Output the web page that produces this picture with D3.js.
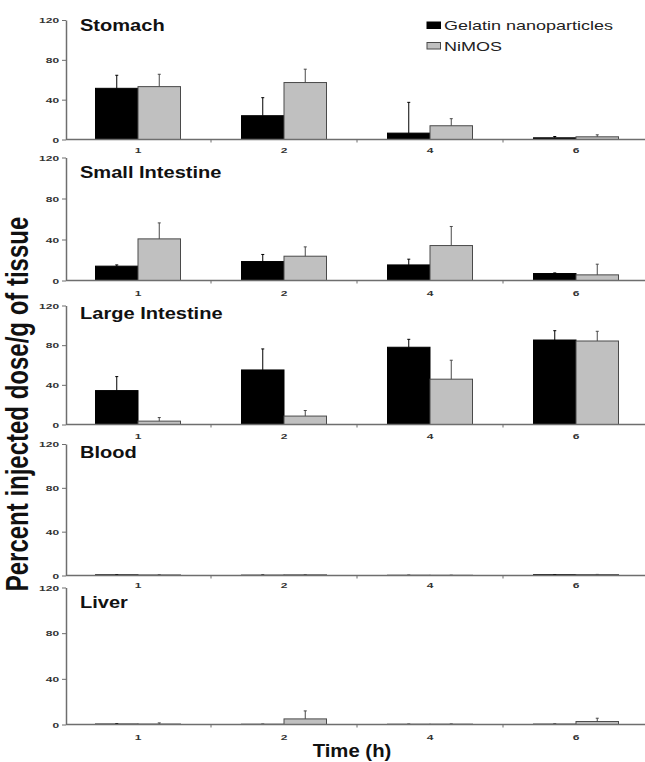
<!doctype html>
<html>
<head>
<meta charset="utf-8">
<script src="https://cdnjs.cloudflare.com/ajax/libs/d3/7.8.5/d3.min.js"></script>
<style>
  body { margin: 0; background: #fff; }
  svg { display: block; }
  text { font-family: "Liberation Sans", Arial, sans-serif; }
</style>
</head>
<body>
<svg id="chart" width="645" height="762"></svg>
<script>
// ---- data ----
var times = ["1", "2", "4", "6"];
var seriesNames = ["Gelatin nanoparticles", "NiMOS"];
var organs = ["Stomach", "Small Intestine", "Large Intestine", "Blood", "Liver"];
var yTicks = [0, 40, 80, 120];

// one row per organ, one value per time point
var gelatinMean = [
  [51.4, 23.9, 6.4, 1.7],
  [14.0, 18.5, 15.2, 6.8],
  [34.2, 55.0, 77.9, 85.2],
  [0.6, 0.3, 0.2, 0.7],
  [0.4, 0.2, 0.2, 0.3]
];
var gelatinSD = [
  [13.1, 18.1, 30.9, 1.3],
  [1.2, 6.9, 5.6, 0.6],
  [14.1, 21.2, 8.0, 9.4],
  [0.2, 0.2, 0.1, 0.2],
  [0.3, 0.1, 0.1, 0.1]
];
var nimosMean = [
  [53.1, 57.2, 13.8, 2.7],
  [40.6, 23.7, 34.1, 5.5],
  [3.4, 8.5, 45.7, 84.2],
  [0.5, 0.6, 0.2, 0.8],
  [0.4, 4.9, 0.3, 2.6]
];
var nimosSD = [
  [12.4, 13.4, 7.1, 2.0],
  [15.6, 9.1, 18.6, 10.4],
  [3.6, 5.6, 19.1, 9.8],
  [0.2, 0.2, 0.1, 0.2],
  [1.0, 7.0, 0.2, 2.9]
];

// ---- layout (pixel geometry of each stacked panel) ----
var panels = [
  {top: 20,    bottom: 139.5, title: 31,  label: 153},
  {top: 157.5, bottom: 280.5, title: 178, label: 296},
  {top: 305.5, bottom: 424.5, title: 319, label: 439},
  {top: 444,   bottom: 575.5, title: 458, label: 588},
  {top: 587.5, bottom: 724.5, title: 608, label: 740}
];
var axisX = 66, rightX = 645;
var fills = ["#000000", "#c0c0c0"];
var strokes = ["#000000", "#4a4a4a"];
var axisCol = "#6e6e6e";

var svg = d3.select("#chart");

var x0 = d3.scaleBand().domain(times).range([65, 649]).padding(0);
var x1 = d3.scaleBand().domain(seriesNames).range([-42.5, 42.5]);
var xb = d3.scaleLinear().domain([0, times.length]).range([65, 649]);

organs.forEach(function(organ, k) {
  var p = panels[k];
  var y = d3.scaleLinear().domain([0, 120]).range([p.bottom, p.top]);
  var g = svg.append("g");

  var rows = [];
  times.forEach(function(t, i) {
    rows.push({t: t, s: 0, v: gelatinMean[k][i], e: gelatinSD[k][i]});
    rows.push({t: t, s: 1, v: nimosMean[k][i], e: nimosSD[k][i]});
  });

  // error bars (drawn first so the bar covers the line foot)
  var eb = g.selectAll(".err").data(rows).enter().append("g");
  eb.append("line")
    .attr("x1", function(d) { return x0(d.t) + x0.bandwidth() / 2 + x1(seriesNames[d.s]) + x1.bandwidth() / 2; })
    .attr("x2", function(d) { return x0(d.t) + x0.bandwidth() / 2 + x1(seriesNames[d.s]) + x1.bandwidth() / 2; })
    .attr("y1", function(d) { return y(d.v); })
    .attr("y2", function(d) { return y(d.v + d.e); })
    .attr("stroke", function(d) { return strokes[d.s]; })
    .attr("stroke-width", 1);
  eb.append("line")
    .attr("x1", function(d) { return x0(d.t) + x0.bandwidth() / 2 + x1(seriesNames[d.s]) + x1.bandwidth() / 2 - 1.5; })
    .attr("x2", function(d) { return x0(d.t) + x0.bandwidth() / 2 + x1(seriesNames[d.s]) + x1.bandwidth() / 2 + 1.5; })
    .attr("y1", function(d) { return y(d.v + d.e); })
    .attr("y2", function(d) { return y(d.v + d.e); })
    .attr("stroke", function(d) { return strokes[d.s]; })
    .attr("stroke-width", 1);

  g.selectAll(".bar").data(rows).enter().append("rect")
    .attr("x", function(d) { return x0(d.t) + x0.bandwidth() / 2 + x1(seriesNames[d.s]); })
    .attr("y", function(d) { return y(d.v); })
    .attr("width", x1.bandwidth())
    .attr("height", function(d) { return p.bottom - y(d.v); })
    .attr("fill", function(d) { return fills[d.s]; })
    .attr("stroke", function(d) { return strokes[d.s]; })
    .attr("stroke-width", 1);

  // re-draw the error line part above the bar top
  eb.raise();

  // y axis
  var ya = g.append("g").attr("transform", "translate(" + axisX + ",0)")
    .call(d3.axisLeft(y).tickValues(yTicks).tickSize(4).tickSizeOuter(0));
  ya.select(".domain").attr("stroke", axisCol).attr("stroke-width", 1.5);
  ya.selectAll(".tick line").attr("stroke", axisCol);
  ya.selectAll(".tick text")
    .attr("x", -4.6).attr("dy", "0.34em")
    .attr("transform", "scale(1.5,1)")
    .attr("font-size", 8).attr("font-weight", "bold")
    .attr("fill", "#333");

  // x axis line with ticks at band boundaries
  g.append("line")
    .attr("x1", axisX).attr("x2", rightX)
    .attr("y1", p.bottom).attr("y2", p.bottom)
    .attr("stroke", axisCol).attr("stroke-width", 1.5);
  g.selectAll(".xt").data(d3.range(1, times.length)).enter().append("line")
    .attr("x1", function(d) { return xb(d); }).attr("x2", function(d) { return xb(d); })
    .attr("y1", p.bottom).attr("y2", p.bottom + 3)
    .attr("stroke", axisCol);

  g.selectAll(".xl").data(times).enter().append("text")
    .attr("transform", function(d) { return "translate(" + (x0(d) + x0.bandwidth() / 2) + "," + p.label + ") scale(1.5,1)"; })
    .attr("text-anchor", "middle")
    .attr("font-size", 8).attr("font-weight", "bold").attr("fill", "#333")
    .text(function(d) { return d; });

  g.append("text")
    .attr("transform", "translate(80," + p.title + ") scale(1.18,1)")
    .attr("font-size", 17).attr("font-weight", "bold").attr("fill", "#111")
    .text(organ);
});

// legend
var leg = svg.append("g");
seriesNames.forEach(function(name, i) {
  leg.append("rect")
    .attr("x", 427).attr("y", 22 + i * 20.5)
    .attr("width", 13.5).attr("height", 6.5)
    .attr("fill", fills[i]).attr("stroke", strokes[i]);
  leg.append("text")
    .attr("transform", "translate(444," + (30 + i * 20.5) + ") scale(1.5,1)")
    .attr("font-size", 12).attr("fill", "#222")
    .text(name);
});

// axis titles
svg.append("text")
  .attr("transform", "translate(28,404) rotate(-90) scale(1,1.28)")
  .attr("text-anchor", "middle")
  .attr("font-size", 24).attr("font-weight", "bold").attr("fill", "#111")
  .text("Percent injected dose/g of tissue");

svg.append("text")
  .attr("transform", "translate(352,757) scale(1.07,1)")
  .attr("text-anchor", "middle")
  .attr("font-size", 19).attr("font-weight", "bold").attr("fill", "#111")
  .text("Time (h)");
</script>
</body>
</html>
